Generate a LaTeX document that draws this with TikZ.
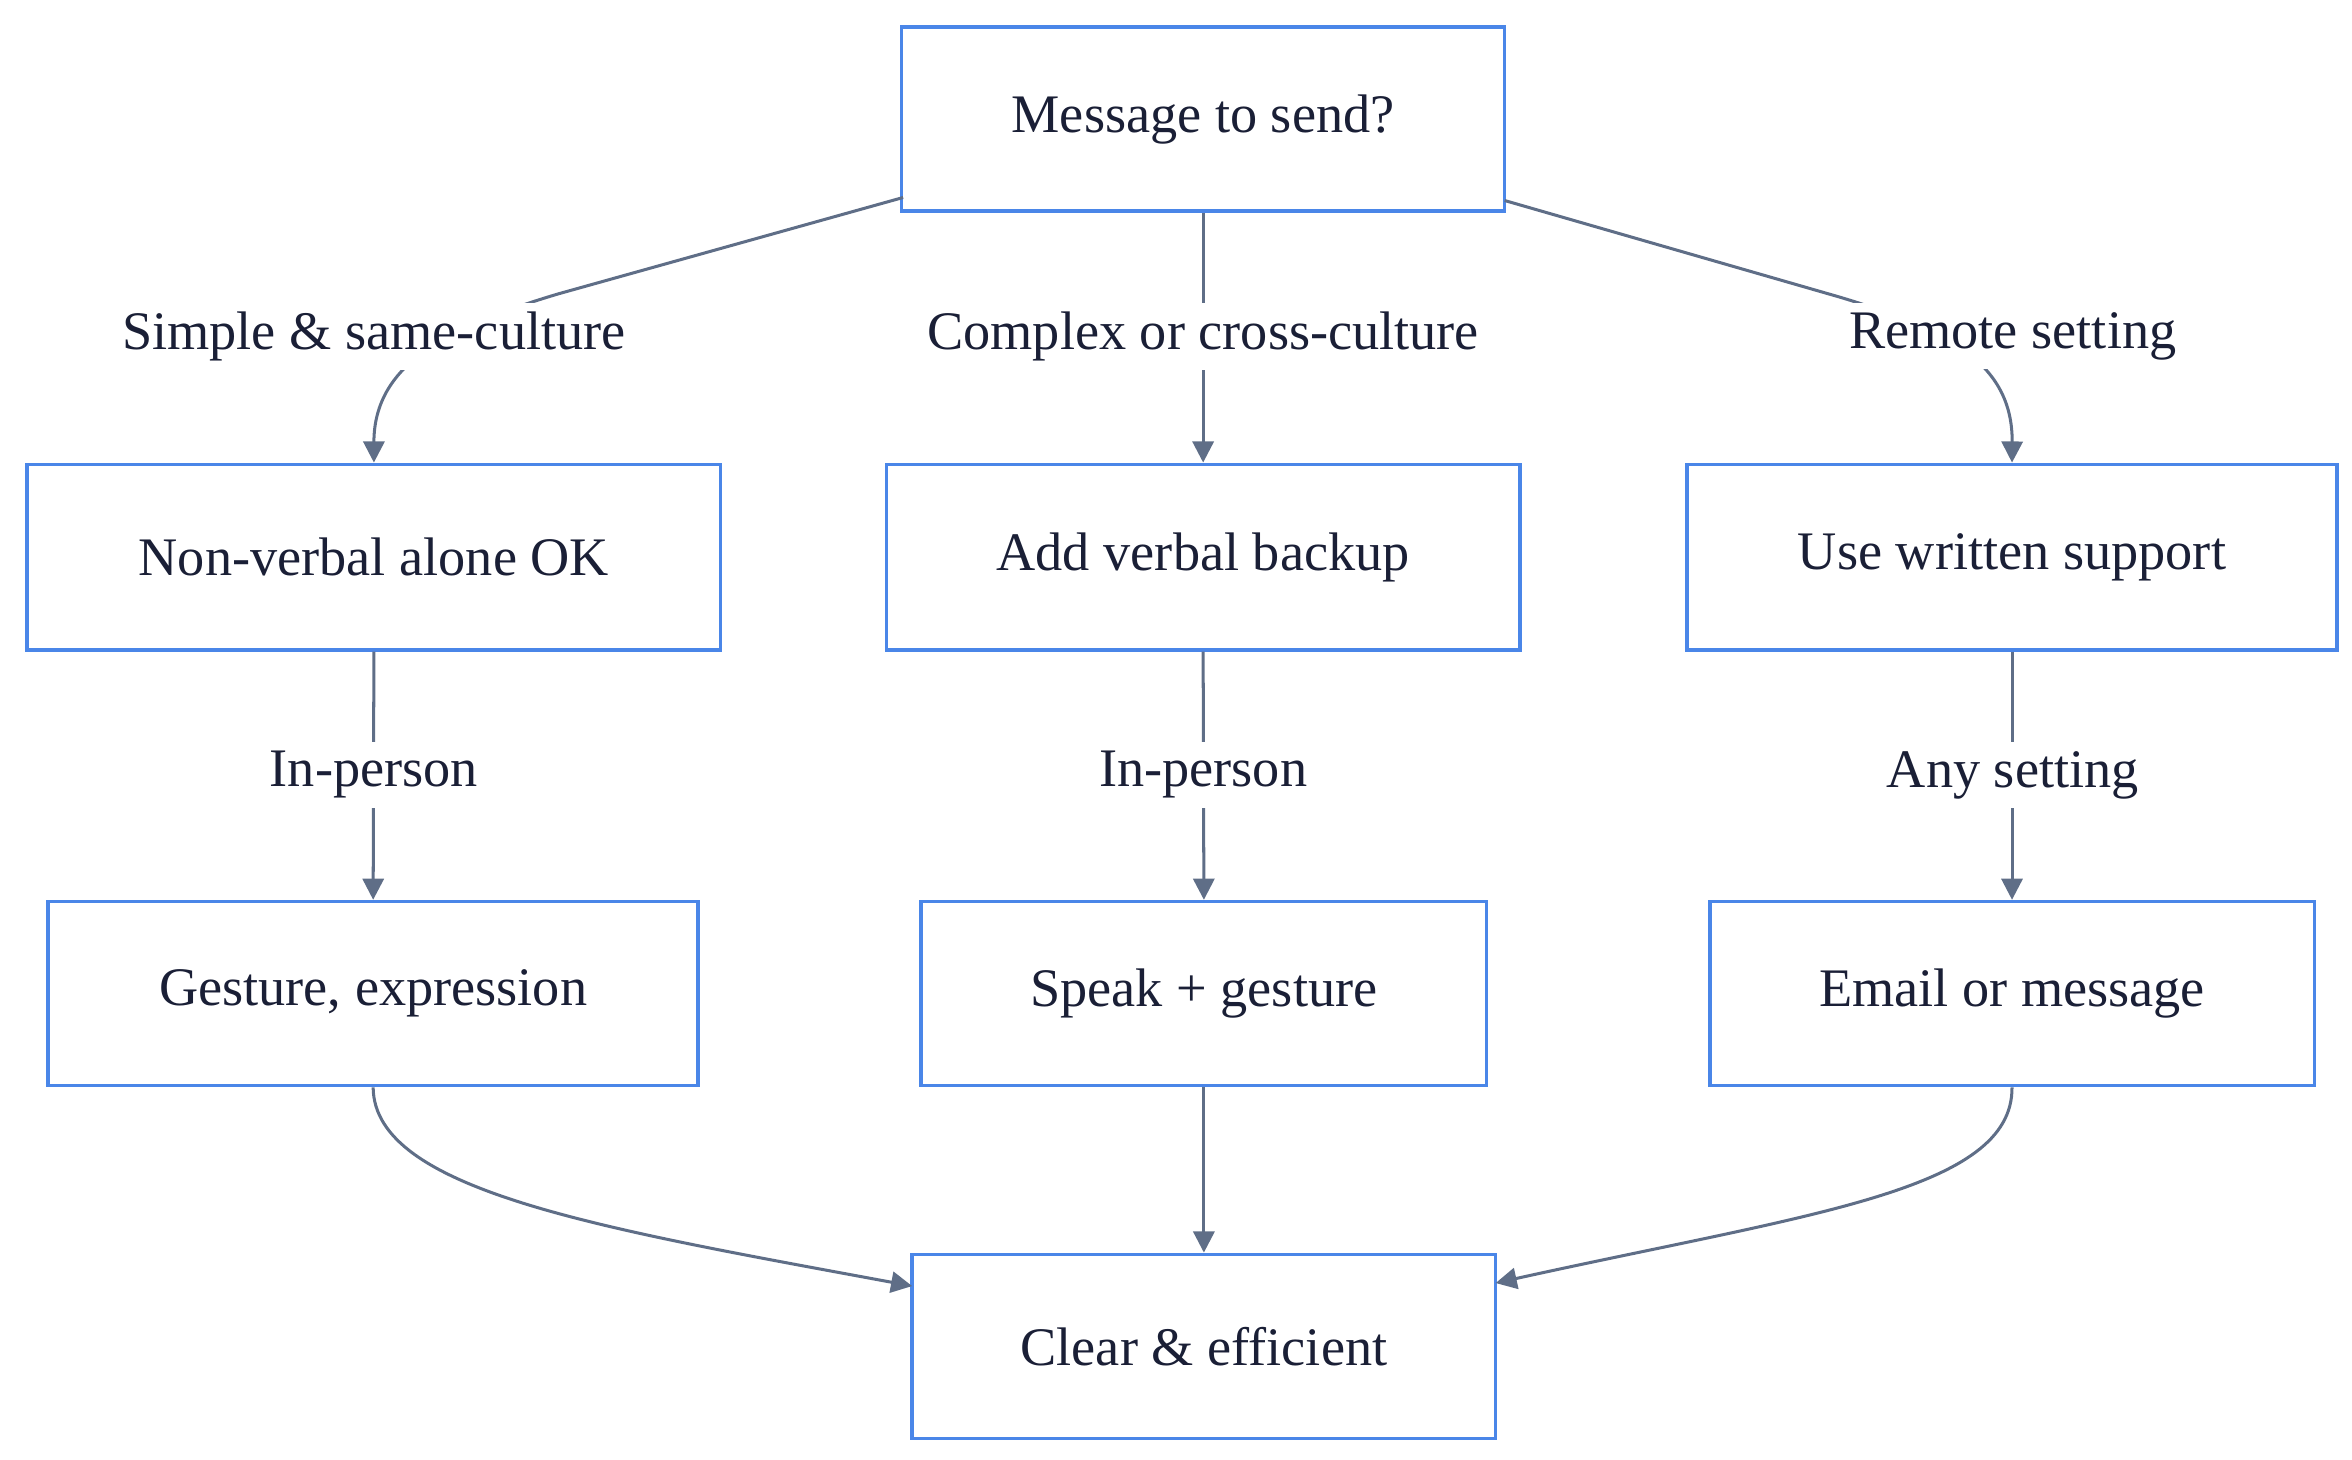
\documentclass[tikz,border=0pt]{standalone}
\usepackage{fontspec}
\setmainfont{Liberation Serif}
\usetikzlibrary{arrows.meta}
\definecolor{bx}{HTML}{4A86E8}
\definecolor{ln}{HTML}{5F6E87}
\definecolor{tx}{HTML}{1A1F36}
\begin{document}
\begin{tikzpicture}[x=0.5pt,y=-0.5pt,
 box/.style={draw=bx,line width=1.2pt,fill=white,inner sep=0,text=tx,font=\fontsize{18}{20}\selectfont},
 lbl/.style={fill=white,text=tx,font=\fontsize{18}{20}\selectfont,inner sep=3pt},
 ar/.style={draw=ln,line width=1pt,-{Triangle[length=7pt,width=7pt]}}]
\useasboundingbox (0,0) rectangle (1560,968);
\node[box,minimum width=200pt,minimum height=61pt] (top) at (798,79) {Message to send?};
\node[box,minimum width=230pt,minimum height=61.5pt] (a1) at (248,369.5) {Non-verbal alone OK};
\node[box,minimum width=210pt,minimum height=61.5pt] (b1) at (798,369.5) {Add verbal backup};
\node[box,minimum width=215.5pt,minimum height=61.5pt] (c1) at (1334.5,369.5) {Use written support};
\node[box,minimum width=215.5pt,minimum height=61pt] (a2) at (247.5,659) {Gesture, expression};
\node[box,minimum width=187.5pt,minimum height=61pt] (b2) at (798.5,659) {Speak + gesture};
\node[box,minimum width=200.5pt,minimum height=61pt] (c2) at (1334.5,659) {Email or message};
\node[box,minimum width=193.5pt,minimum height=61pt] (d) at (798.5,893) {Clear \& efficient};
% edges
\draw[ar] (599,131) -- (370,195) .. controls (300,216) and (248,240) .. (a1.north);
\draw[ar] (top.south) -- (b1.north);
\draw[ar] (998,133) -- (1220,197) .. controls (1290,218) and (1335,240) .. (c1.north);
\draw[ar] (a1.south) -- (a2.north);
\draw[ar] (b1.south) -- (b2.north);
\draw[ar] (c1.south) -- (c2.north);
\draw[ar] (a2.south) .. controls (248,790) and (400,815) .. (605,853);
\draw[ar] (b2.south) -- (d.north);
\draw[ar] (c2.south) .. controls (1335,790) and (1200,805) .. (992,851);
% labels
\node[lbl] (l1) at (248,223) {Simple \& same-culture};
\node[lbl] (l2) at (798,223) {Complex or cross-culture};
\node[lbl] (l3) at (1335,223) {Remote setting};
\node[lbl] (l4) at (248,514) {In-person};
\node[lbl] (l5) at (798,514) {In-person};
\node[lbl] (l6) at (1335,514) {Any setting};
\end{tikzpicture}
\end{document}
